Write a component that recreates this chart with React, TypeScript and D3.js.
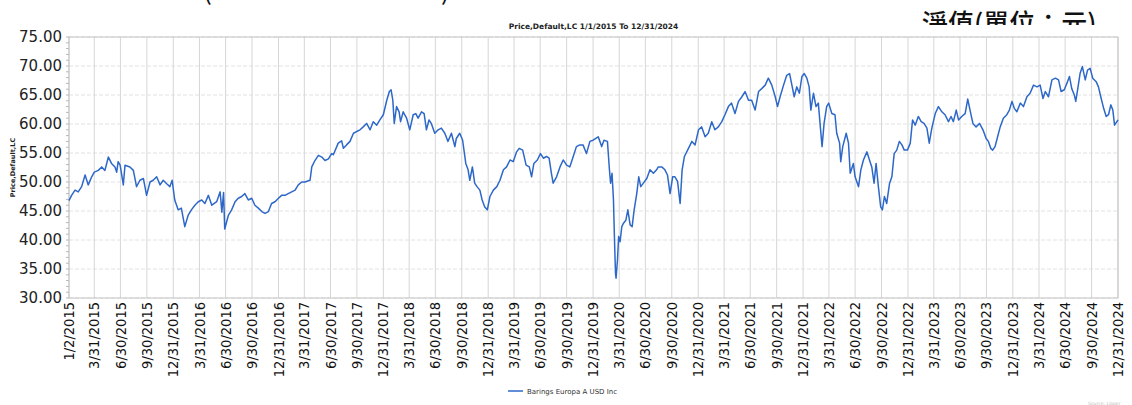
import React from 'react';
import * as d3 from 'd3';

// NAV readings taken off the reference chart, one list per year: [month-day, price]
const nav2015: [string, number][] = [
  ['01-02', 46.8], ['01-11', 47.7], ['01-23', 48.6], ['02-03', 48.3], ['02-15', 49.2], ['02-27', 51.2],
  ['03-10', 49.5], ['03-22', 50.9], ['03-31', 51.7], ['04-14', 52.0], ['04-26', 52.6], ['05-07', 52.0],
  ['05-19', 54.3], ['05-30', 53.2], ['06-11', 52.6], ['06-17', 51.7], ['06-22', 53.5], ['06-29', 52.9],
  ['07-10', 49.5], ['07-16', 52.9], ['08-02', 52.6], ['08-14', 52.0], ['08-25', 49.2], ['09-06', 50.3],
  ['09-18', 50.6], ['09-29', 47.7], ['10-11', 50.0], ['10-22', 50.3], ['11-03', 50.9], ['11-15', 49.5],
  ['11-26', 50.3], ['12-08', 49.7], ['12-19', 49.2], ['12-27', 50.3],
];
const nav2016: [string, number][] = [
  ['01-05', 46.9], ['01-17', 45.2], ['01-28', 45.5], ['02-09', 42.3], ['02-21', 44.3], ['03-03', 45.2],
  ['03-15', 46.0], ['03-27', 46.6], ['04-08', 46.9], ['04-19', 46.3], ['05-01', 47.7], ['05-13', 46.0],
  ['05-30', 46.6], ['06-11', 48.3], ['06-17', 44.8], ['06-23', 48.2], ['06-27', 41.9], ['07-10', 44.3],
  ['07-21', 45.2], ['08-02', 46.6], ['08-13', 47.2], ['08-25', 47.5], ['09-05', 48.0], ['09-17', 46.9],
  ['09-29', 47.2], ['10-10', 46.0], ['10-22', 45.5], ['11-03', 44.9], ['11-14', 44.6], ['11-26', 44.9],
  ['12-07', 46.3], ['12-19', 46.6], ['12-31', 47.2],
];
const nav2017: [string, number][] = [
  ['01-11', 47.7], ['01-23', 47.7], ['02-03', 48.0], ['02-15', 48.3], ['02-27', 48.6], ['03-10', 49.5],
  ['03-22', 50.0], ['04-02', 50.0], ['04-20', 50.3], ['04-26', 52.6], ['05-07', 53.7], ['05-19', 54.6],
  ['05-31', 54.3], ['06-11', 53.7], ['06-23', 54.0], ['07-04', 54.9], ['07-10', 54.7], ['07-27', 56.7],
  ['08-08', 57.1], ['08-14', 55.8], ['08-25', 56.4], ['09-06', 57.0], ['09-18', 58.4], ['09-29', 58.7],
  ['10-11', 59.0], ['10-22', 59.5], ['11-03', 60.1], ['11-15', 59.0], ['11-26', 60.4], ['12-08', 59.8],
  ['12-19', 60.7], ['12-31', 61.6],
];
const nav2018: [string, number][] = [
  ['01-12', 64.1], ['01-21', 65.6], ['01-27', 65.9], ['02-02', 64.1], ['02-07', 60.1], ['02-15', 63.0],
  ['02-24', 62.1], ['03-01', 60.4], ['03-10', 62.1], ['03-22', 61.0], ['04-02', 59.0], ['04-14', 61.6],
  ['04-23', 61.8], ['05-01', 61.0], ['05-13', 62.1], ['05-22', 61.8], ['05-30', 59.0], ['06-08', 60.7],
  ['06-16', 60.1], ['06-28', 58.4], ['07-10', 59.0], ['07-21', 59.3], ['08-02', 58.4], ['08-13', 57.0],
  ['08-25', 58.4], ['09-06', 56.1], ['09-11', 57.5], ['09-23', 58.4], ['10-03', 57.2], ['10-14', 53.2],
  ['10-22', 52.1], ['10-28', 50.3], ['11-06', 52.6], ['11-14', 49.8], ['11-22', 49.2], ['12-02', 48.6],
  ['12-10', 46.9], ['12-19', 45.7], ['12-28', 45.2],
];
const nav2019: [string, number][] = [
  ['01-06', 47.5], ['01-18', 48.6], ['01-30', 49.2], ['02-10', 50.3], ['02-22', 52.1], ['03-05', 52.6],
  ['03-17', 53.8], ['03-28', 53.5], ['04-09', 55.2], ['04-18', 55.8], ['04-30', 55.5], ['05-12', 52.9],
  ['05-23', 52.6], ['05-31', 50.9], ['06-08', 53.2], ['06-20', 53.8], ['07-01', 54.9], ['07-11', 54.1],
  ['07-22', 54.4], ['07-31', 54.1], ['08-08', 51.5], ['08-14', 49.8], ['08-26', 50.9], ['09-07', 52.6],
  ['09-18', 53.8], ['09-30', 52.9], ['10-11', 52.6], ['10-23', 54.4], ['11-03', 56.1], ['11-15', 56.4],
  ['11-26', 56.4], ['12-08', 54.9], ['12-20', 57.0], ['12-31', 57.2],
];
const nav2020: [string, number][] = [
  ['01-18', 57.8], ['01-30', 56.1], ['02-07', 57.2], ['02-19', 57.0], ['02-26', 52.1], ['03-01', 49.8],
  ['03-06', 51.5], ['03-11', 46.9], ['03-14', 41.1], ['03-18', 34.3], ['03-20', 33.4], ['03-25', 36.6],
  ['03-29', 40.6], ['04-03', 39.7], ['04-09', 42.3], ['04-15', 42.9], ['04-23', 43.4], ['04-30', 45.2],
  ['05-08', 42.6], ['05-15', 42.3], ['05-22', 45.2], ['05-31', 48.0], ['06-07', 50.9], ['06-14', 49.2],
  ['06-23', 49.8], ['07-05', 50.6], ['07-16', 52.1], ['07-28', 51.5], ['08-08', 52.1], ['08-14', 52.6],
  ['08-26', 52.6], ['09-06', 52.1], ['09-15', 51.2], ['09-24', 48.0], ['10-03', 50.9], ['10-11', 50.9],
  ['10-20', 50.1], ['10-29', 46.3], ['11-05', 52.1], ['11-13', 54.4], ['11-27', 55.8], ['12-09', 57.0],
  ['12-20', 56.4],
];
const nav2021: [string, number][] = [
  ['01-01', 59.0], ['01-12', 59.5], ['01-24', 57.8], ['02-04', 58.4], ['02-16', 60.4], ['02-27', 59.0],
  ['03-11', 59.5], ['03-23', 60.4], ['04-03', 61.6], ['04-15', 63.0], ['04-26', 63.6], ['05-08', 61.8],
  ['05-20', 63.9], ['06-01', 64.7], ['06-12', 65.6], ['06-24', 64.1], ['07-05', 64.1], ['07-17', 62.4],
  ['07-29', 65.6], ['08-09', 66.1], ['08-21', 66.7], ['09-01', 67.9], ['09-13', 66.7], ['09-25', 64.7],
  ['10-03', 63.0], ['10-12', 64.7], ['10-24', 66.7], ['11-04', 68.4], ['11-14', 68.7], ['11-22', 66.7],
  ['11-30', 64.7], ['12-09', 66.4], ['12-18', 65.3], ['12-27', 68.2],
];
const nav2022: [string, number][] = [
  ['01-04', 68.7], ['01-13', 67.9], ['01-21', 66.4], ['01-27', 62.4], ['02-05', 65.3], ['02-14', 63.0],
  ['02-22', 63.6], ['02-28', 60.1], ['03-07', 56.1], ['03-14', 60.1], ['03-23', 63.0], ['03-30', 63.6],
  ['04-10', 61.8], ['04-21', 61.6], ['04-27', 58.4], ['05-07', 56.7], ['05-11', 53.5], ['05-18', 56.1],
  ['05-30', 58.4], ['06-07', 56.7], ['06-13', 51.5], ['06-24', 53.2], ['06-30', 50.9], ['07-12', 49.2],
  ['07-20', 52.1], ['07-29', 53.8], ['08-10', 55.2], ['08-19', 53.8], ['08-27', 52.6], ['09-04', 49.8],
  ['09-11', 53.2], ['09-19', 49.2], ['09-27', 45.7], ['10-03', 45.2], ['10-10', 47.5], ['10-18', 46.3],
  ['10-28', 49.8], ['11-05', 50.9], ['11-13', 54.9], ['11-22', 55.5], ['12-01', 57.0], ['12-10', 56.4],
  ['12-18', 55.5], ['12-29', 55.5],
];
const nav2023: [string, number][] = [
  ['01-08', 56.7], ['01-16', 60.7], ['01-25', 59.8], ['02-05', 61.3], ['02-15', 60.4], ['02-25', 60.1],
  ['03-07', 59.3], ['03-15', 56.7], ['03-24', 59.3], ['04-05', 61.8], ['04-16', 63.0], ['04-28', 62.1],
  ['05-09', 61.6], ['05-21', 60.4], ['05-30', 61.3], ['06-07', 60.4], ['06-17', 62.4], ['06-25', 60.7],
  ['07-06', 61.3], ['07-18', 61.8], ['07-27', 64.3], ['08-04', 62.4], ['08-14', 60.1], ['08-25', 59.5],
  ['09-06', 60.1], ['09-18', 59.0], ['09-29', 57.5], ['10-07', 57.0], ['10-15', 55.8], ['10-22', 55.5],
  ['10-30', 56.1], ['11-08', 57.8], ['11-17', 59.5], ['11-28', 61.0], ['12-10', 61.6], ['12-19', 62.4],
  ['12-28', 63.9],
];
const nav2024: [string, number][] = [
  ['01-05', 62.7], ['01-14', 62.1], ['01-26', 63.6], ['02-06', 63.0], ['02-18', 64.7], ['02-29', 65.3],
  ['03-12', 66.7], ['03-24', 66.4], ['04-04', 66.7], ['04-14', 64.4], ['04-22', 65.6], ['05-03', 64.7],
  ['05-15', 67.6], ['05-27', 67.9], ['06-07', 67.6], ['06-16', 65.6], ['06-27', 65.9], ['07-06', 67.0],
  ['07-15', 68.2], ['07-23', 66.1], ['08-01', 65.0], ['08-06', 63.9], ['08-13', 66.1], ['08-21', 68.7],
  ['08-29', 69.9], ['09-08', 67.6], ['09-16', 69.3], ['09-25', 69.6], ['10-04', 67.9], ['10-16', 67.3],
  ['10-24', 66.4], ['11-01', 64.7], ['11-11', 62.7], ['11-20', 61.3], ['11-28', 61.6], ['12-06', 63.3],
  ['12-13', 62.4], ['12-19', 59.8], ['12-31', 60.7],
];

const navByYear: [number, [string, number][]][] = [
  [2015, nav2015], [2016, nav2016], [2017, nav2017], [2018, nav2018], [2019, nav2019],
  [2020, nav2020], [2021, nav2021], [2022, nav2022], [2023, nav2023], [2024, nav2024],
];

const tickYears = [2015, 2016, 2017, 2018, 2019, 2020, 2021, 2022, 2023, 2024];
const quarterEnds = ['3/31', '6/30', '9/30', '12/31'];
const yTicks = [30, 35, 40, 45, 50, 55, 60, 65, 70, 75];

const seriesName = 'Barings Europa A USD Inc';
const chartTitle = 'Price,Default,LC 1/1/2015 To 12/31/2024';
const yTitle = 'Price,Default,LC';
const unitLabel = '淨值(單位：元)';

const W = 1132, H = 405;
const margin = { left: 69, right: 14, top: 37, bottom: 107 };
const lineColor = '#2d68c9';

const parseDay = d3.timeParse('%Y-%m-%d');
const parseTick = d3.timeParse('%m/%d/%Y');

const App = () => {
  const points = navByYear.flatMap(([yr, rows]) =>
    rows.map(([md, v]) => ({ date: parseDay(`${yr}-${md}`) as Date, value: v })));

  const tickLabels = ['1/2/2015', ...tickYears.flatMap(yr => quarterEnds.map(q => `${q}/${yr}`))];
  const ticks = tickLabels.map(label => ({ label, date: parseTick(label) as Date }));

  const x = d3.scaleTime()
    .domain([ticks[0].date, ticks[ticks.length - 1].date])
    .range([margin.left, W - margin.right]);
  const y = d3.scaleLinear().domain([30, 75]).range([H - margin.bottom, margin.top]);

  const line = d3.line<{ date: Date; value: number }>()
    .x(d => x(d.date))
    .y(d => y(d.value));

  const [x0, x1] = x.range();
  const [yb, yt] = y.range();
  const minor = d3.range(30, 75.01, 1);

  return (
    <svg width={W} height={H} style={{ position: 'absolute', left: 0, top: 0, background: '#fff' }}
      fontFamily="'DejaVu Sans', Verdana, sans-serif">
      <defs>
        <clipPath id="unitClip"><rect x={0} y={0} width={W} height={25} /></clipPath>
      </defs>

      {/* header text from the page above, partly hidden like in the source */}
      <g fontFamily="'Noto Sans CJK TC', sans-serif" fontSize={26} fill="#111">
        <text x={203} y={0}>(</text>
        <text x={441} y={0}>)</text>
        <text x={922} y={33} clipPath="url(#unitClip)" fontWeight={500}>{unitLabel}</text>
      </g>

      <text x={(x0 + x1) / 2} y={29} textAnchor="middle" fontSize={7.5} fontWeight="bold" fill="#222">
        {chartTitle}
      </text>

      {/* grid */}
      {yTicks.map(t => (
        <line key={`h${t}`} x1={x0} x2={x1} y1={y(t)} y2={y(t)} stroke="#e2e2e2" strokeDasharray="4,2" />
      ))}
      {ticks.map(t => (
        <line key={`v${t.label}`} x1={x(t.date)} x2={x(t.date)} y1={yt} y2={yb} stroke="#d6d6d6" />
      ))}

      <rect x={x0} y={yt} width={x1 - x0} height={yb - yt} fill="none" stroke="#c4c4c4" />

      {/* y axis */}
      {minor.map(v => (
        <line key={`m${v}`} x1={x0 - 3} x2={x0} y1={y(v)} y2={y(v)} stroke="#b8b8b8" />
      ))}
      {yTicks.map(t => (
        <text key={`yl${t}`} x={62} y={y(t)} dy="0.36em" textAnchor="end" fontSize={15} fill="#222">
          {t.toFixed(2)}
        </text>
      ))}
      <text transform={`translate(15,${(yt + yb) / 2}) rotate(-90)`} textAnchor="middle"
        fontSize={6.5} fontWeight="bold" fill="#222">{yTitle}</text>

      {/* x axis */}
      {ticks.map(t => (
        <text key={`xl${t.label}`} transform={`translate(${x(t.date)},${yb + 4}) rotate(-90)`}
          dy="0.35em" textAnchor="end" fontSize={14.5} fill="#111"
          fontFamily="'Liberation Sans Narrow', 'DejaVu Sans Condensed', sans-serif"
          style={{ fontStretch: 'condensed' }}>
          {t.label}
        </text>
      ))}

      <path d={line(points) ?? ''} fill="none" stroke={lineColor} strokeWidth={1.5} strokeLinejoin="round" />

      {/* legend */}
      <line x1={508} x2={523} y1={391} y2={391} stroke={lineColor} strokeWidth={1.5} />
      <text x={527} y={393.5} fontSize={7} fill="#333">{seriesName}</text>

      <text x={1088} y={404.5} fontSize={4.5} fill="#bbb">Source: Lipper</text>
    </svg>
  );
};

export default App;
